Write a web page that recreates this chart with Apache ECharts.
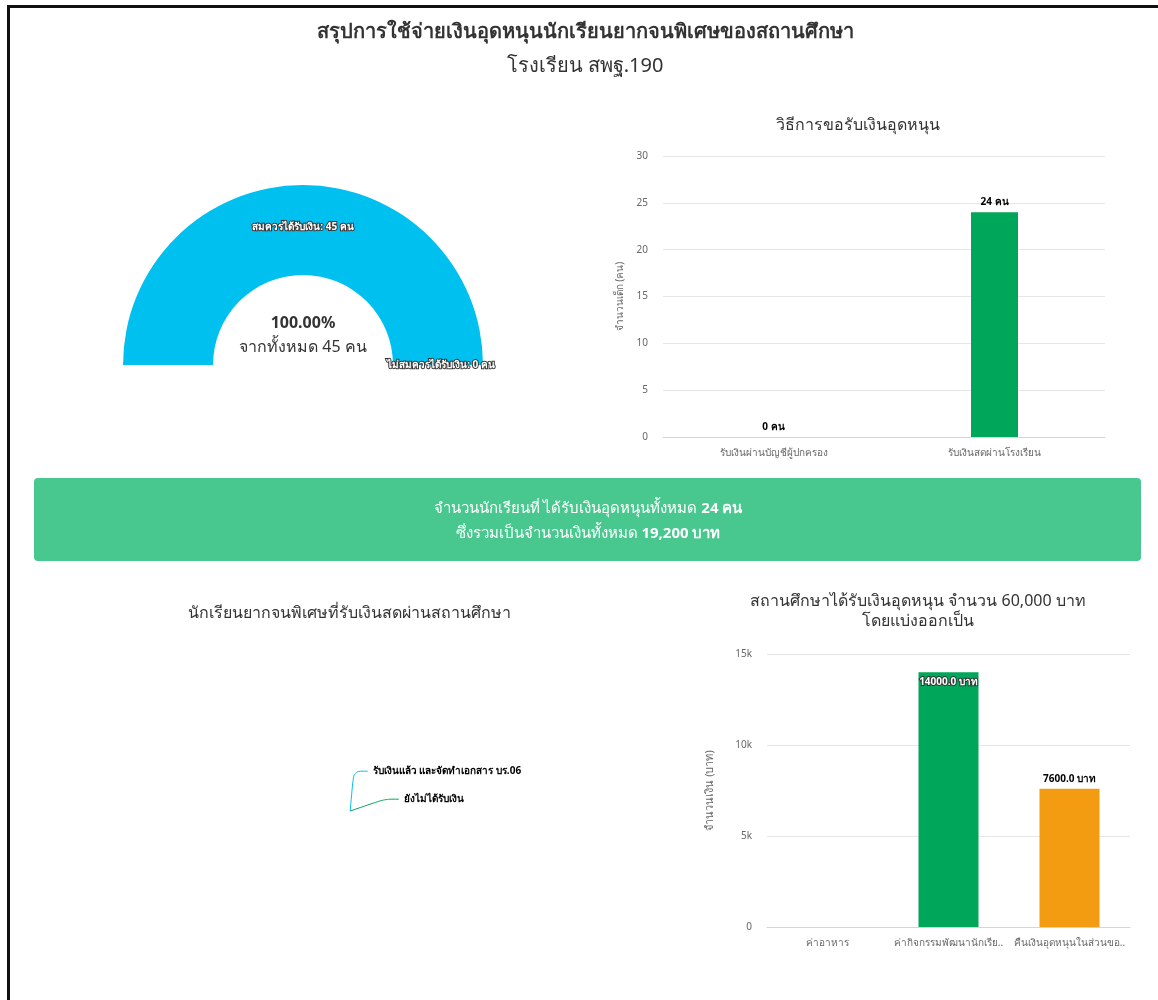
<!DOCTYPE html>
<html>
<head>
<meta charset="utf-8">
<script src="https://cdn.jsdelivr.net/npm/echarts@6/dist/echarts.min.js"></script>
<style>
  html, body { margin: 0; padding: 0; background: #fff; }
  #chart { width: 1158px; height: 1000px; }
  #frame {
    position: absolute; left: 7px; top: 5px; width: 1160px; height: 1000px;
    border-left: 3px solid #111; border-top: 3px solid #111; pointer-events: none;
  }
</style>
</head>
<body>
<div id="chart"></div>
<div id="frame"></div>
<script>
// ---- data ----
const pageTitle = 'สรุปการใช้จ่ายเงินอุดหนุนนักเรียนยากจนพิเศษของสถานศึกษา'
const schoolName = 'โรงเรียน สพฐ.190'

const eligibleNames = ['สมควรได้รับเงิน', 'ไม่สมควรได้รับเงิน']
const eligibleValues = [45, 0]

const methodTitle = 'วิธีการขอรับเงินอุดหนุน'
const methodCats = ['รับเงินผ่านบัญชีผู้ปกครอง', 'รับเงินสดผ่านโรงเรียน']
const methodValues = [0, 24]
const methodTicks = [0, 5, 10, 15, 20, 25, 30]

const paidStudents = 24
const paidAmount = 19200

const cashTitle = 'นักเรียนยากจนพิเศษที่รับเงินสดผ่านสถานศึกษา'
const cashNames = ['รับเงินแล้ว และจัดทำเอกสาร บร.06', 'ยังไม่ได้รับเงิน']
const cashValues = [0, 0]

const budgetTotal = 60000
const budgetCats = ['ค่าอาหาร', 'ค่ากิจกรรมพัฒนานักเรียน', 'คืนเงินอุดหนุนในส่วนของสถานศึกษา']
const budgetValues = [0, 14000, 7600]
const budgetTicks = [0, 5000, 10000, 15000]

// ---- chart ----
const FONT = "'Noto Sans', 'Noto Sans CJK SC', sans-serif"
const AQUA = '#00c0ef'
const GREEN = '#00a65a'
const ORANGE = '#f39c12'
const budgetColors = [AQUA, GREEN, ORANGE]

const eligibleTotal = eligibleValues.reduce((a, b) => a + b, 0)
const eligiblePct = (eligibleValues[0] / eligibleTotal * 100).toFixed(2) + '%'
const budgetMax = budgetTicks[budgetTicks.length - 1]

function text(x, y, str, size, weight) {
  return {
    type: 'text', x: x, y: y,
    style: {
      text: str, fill: '#333', font: (weight || 'normal') + ' ' + size + 'px ' + FONT,
      textAlign: 'center', textVerticalAlign: 'middle'
    }
  }
}

// cut long category names the way the original does
function shortName(s) {
  return s.length > 22 ? s.slice(0, 22) + '..' : s
}

const chart = echarts.init(document.getElementById('chart'))
chart.setOption({
  textStyle: { fontFamily: FONT },
  animation: false,
  graphic: [
    text(585, 32, pageTitle, 20, 'bold'),
    text(585, 66, schoolName, 20),
    text(303, 323, eligiblePct, 16, 'bold'),
    text(303, 347, 'จากทั้งหมด ' + eligibleTotal + ' คน', 16),
    text(858, 125, methodTitle, 16),
    {
      type: 'rect',
      shape: { x: 34, y: 478, width: 1107, height: 83, r: 4 },
      style: { fill: '#48c78e' }
    },
    {
      type: 'text', x: 588, y: 521,
      style: {
        text: 'จำนวนนักเรียนที่ ได้รับเงินอุดหนุนทั้งหมด {b|' + paidStudents + ' คน}\n' +
          'ซึ่งรวมเป็นจำนวนเงินทั้งหมด {b|' + paidAmount.toLocaleString('en-US') + ' บาท}',
        fill: '#fff', font: '15px ' + FONT, lineHeight: 25,
        textAlign: 'center', textVerticalAlign: 'middle',
        rich: { b: { fontWeight: 'bold', fontSize: 15, fill: '#fff', fontFamily: FONT } }
      }
    },
    text(349, 613, cashTitle, 16),
    text(918, 601, 'สถานศึกษาได้รับเงินอุดหนุน จำนวน ' + budgetTotal.toLocaleString('en-US') + ' บาท', 16),
    text(918, 621, 'โดยแบ่งออกเป็น', 16)
  ],
  grid: [
    { left: 663, right: 53, top: 156, bottom: 563 },
    { left: 767, right: 28, top: 654, bottom: 73 }
  ],
  xAxis: [
    {
      gridIndex: 0, type: 'category', data: methodCats,
      axisLine: { lineStyle: { color: '#ccd6eb' } },
      axisTick: { show: false },
      axisLabel: { color: '#666', fontSize: 10, margin: 11 }
    },
    {
      gridIndex: 1, type: 'category', data: budgetCats,
      axisLine: { lineStyle: { color: '#ccd6eb' } },
      axisTick: { show: false },
      axisLabel: { color: '#666', fontSize: 10, margin: 11, interval: 0, formatter: shortName }
    }
  ],
  yAxis: [
    {
      gridIndex: 0, type: 'value',
      min: methodTicks[0], max: methodTicks[methodTicks.length - 1], interval: methodTicks[1] - methodTicks[0],
      name: 'จำนวนเด็ก (คน)', nameLocation: 'middle', nameGap: 38,
      nameTextStyle: { color: '#666', fontSize: 10 },
      axisLabel: { color: '#666', fontSize: 10, margin: 15 },
      splitLine: { lineStyle: { color: '#e6e6e6' } }
    },
    {
      gridIndex: 1, type: 'value',
      min: budgetTicks[0], max: budgetMax, interval: budgetTicks[1] - budgetTicks[0],
      name: 'จำนวนเงิน (บาท)', nameLocation: 'middle', nameGap: 52,
      nameTextStyle: { color: '#666', fontSize: 11 },
      axisLabel: {
        color: '#666', fontSize: 10, margin: 15,
        formatter: v => v === 0 ? '0' : (v / 1000) + 'k'
      },
      splitLine: { lineStyle: { color: '#e6e6e6' } }
    }
  ],
  series: [
    {
      type: 'pie',
      center: [303, 365],
      radius: [90, 180],
      startAngle: 180,
      endAngle: 360,
      color: [AQUA, '#dd4b39'],
      data: eligibleNames.map((n, i) => ({ name: n, value: eligibleValues[i] })),
      label: {
        position: 'inside', formatter: '{b}: {c} คน',
        color: '#fff', fontSize: 10, fontWeight: 'bold',
        textBorderColor: '#333', textBorderWidth: 2
      },
      emphasis: { disabled: true }
    },
    {
      type: 'bar',
      xAxisIndex: 0, yAxisIndex: 0,
      barWidth: 47,
      data: methodValues.map((v, i) => ({ value: v, itemStyle: { color: i === 0 ? AQUA : GREEN } })),
      label: {
        show: true, position: 'top', formatter: '{c} คน',
        color: '#000', fontSize: 10, fontWeight: 'bold'
      }
    },
    {
      type: 'pie',
      center: [350, 813],
      radius: 2,
      startAngle: 85,
      stillShowZeroSum: false,
      showEmptyCircle: false,
      color: [AQUA, GREEN],
      data: cashNames.map((n, i) => ({ name: n, value: cashValues[i] })),
      label: { color: '#000', fontSize: 10, fontWeight: 'bold', lineHeight: 26 },
      labelLine: { length: 40, length2: 14, smooth: 0.3 },
      emphasis: { disabled: true }
    },
    {
      type: 'bar',
      xAxisIndex: 1, yAxisIndex: 1,
      barWidth: 60,
      data: budgetValues.map((v, i) => {
        const inside = v / budgetMax > 0.9
        return {
          value: v,
          itemStyle: { color: budgetColors[i] },
          label: inside
            ? { position: 'insideTop', color: '#fff', textBorderColor: '#333', textBorderWidth: 2 }
            : { position: 'top', color: '#000' }
        }
      }),
      label: {
        show: true, fontSize: 10, fontWeight: 'bold',
        formatter: p => p.value > 0 ? p.value.toFixed(1) + ' บาท' : ''
      }
    }
  ]
})
</script>
</body>
</html>
